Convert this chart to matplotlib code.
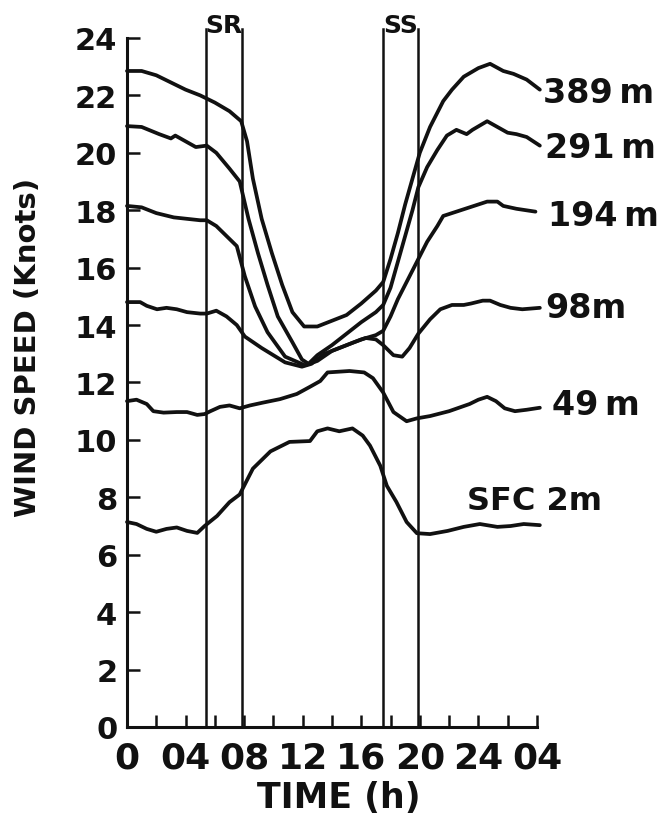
import numpy as np
import matplotlib.pyplot as plt
from matplotlib.ticker import MultipleLocator

# wind speed (knots) vs time (h), one list per height
h389 = [0, 1, 2, 3, 4, 5, 6, 7, 7.8, 8.2, 8.6, 9.2, 9.9, 10.6, 11.3, 12.1, 13.0, 14.0, 15.0,
        16.0, 17.0, 17.5, 18.0, 18.5, 19.0, 19.5, 20.0, 20.7, 21.6, 22.2, 23.0, 24.0, 24.8,
        25.7, 26.4, 27.3, 28.2]
v389 = [22.85, 22.85, 22.7, 22.45, 22.2, 22.0, 21.75, 21.45, 21.1, 20.4, 19.1, 17.7, 16.5,
        15.4, 14.45, 13.95, 13.95, 14.15, 14.35, 14.75, 15.2, 15.5, 16.3, 17.2, 18.2, 19.1,
        20.0, 20.9, 21.8, 22.2, 22.65, 22.95, 23.1, 22.85, 22.75, 22.55, 22.2]

h291 = [0, 1, 2.2, 3.0, 3.3, 4.0, 4.7, 5.45, 6.1, 7.0, 7.7, 8.3, 8.95, 9.6, 10.3, 11.3, 11.95,
        12.4, 13.0, 14.0, 15.0, 16.0, 17.0, 17.5, 18.0, 18.5, 19.0, 19.5, 19.9, 20.5, 21.2,
        21.85, 22.5, 23.2, 23.6, 24.6, 25.3, 26.0, 26.6, 27.3, 28.2]
v291 = [20.93, 20.9, 20.65, 20.5, 20.6, 20.4, 20.2, 20.25, 20.0, 19.45, 19.0, 17.7, 16.5,
        15.4, 14.3, 13.4, 12.8, 12.65, 12.95, 13.3, 13.7, 14.1, 14.45, 14.7, 15.3, 16.2, 17.1,
        18.0, 18.8, 19.5, 20.1, 20.6, 20.8, 20.65, 20.8, 21.1, 20.9, 20.7, 20.65, 20.55, 20.25]

h194 = [0, 1, 2.0, 3.2, 4.1, 5.0, 5.45, 6.1, 6.8, 7.5, 8.05, 8.75, 9.6, 10.8, 11.7, 12.15,
        13.0, 14.0, 15.0, 16.0, 17.0, 17.5, 18.0, 18.5, 19.0, 19.5, 19.9, 20.5, 21.2, 21.6,
        22.5, 23.4, 24.6, 25.3, 25.7, 26.6, 27.9]
v194 = [18.15, 18.1, 17.9, 17.75, 17.7, 17.65, 17.65, 17.45, 17.1, 16.75, 15.7, 14.65, 13.75,
        12.9, 12.7, 12.6, 12.75, 13.1, 13.3, 13.5, 13.65, 13.8, 14.3, 14.9, 15.4, 15.9, 16.3,
        16.9, 17.45, 17.8, 17.95, 18.1, 18.3, 18.3, 18.15, 18.05, 17.95]

h98 = [0, 0.9, 1.35, 2.05, 2.7, 3.4, 4.1, 5.0, 5.45, 6.1, 6.8, 7.5, 8.05, 9.2, 10.8, 11.95,
       12.6, 13.5, 14.5, 15.5, 16.3, 17.0, 17.5, 18.2, 18.8, 19.3, 19.9, 20.7, 21.4, 22.2,
       23.0, 23.5, 24.3, 24.8, 25.5, 26.2, 27.0, 28.2]
v98 = [14.8, 14.8, 14.67, 14.55, 14.6, 14.55, 14.45, 14.4, 14.4, 14.5, 14.3, 14.0, 13.6, 13.2,
       12.7, 12.55, 12.65, 13.0, 13.2, 13.4, 13.55, 13.5, 13.3, 12.95, 12.9, 13.2, 13.7, 14.2,
       14.55, 14.7, 14.7, 14.75, 14.85, 14.85, 14.7, 14.6, 14.55, 14.6]

h49 = [0, 0.65, 1.35, 1.8, 2.5, 3.4, 4.1, 4.8, 5.3, 5.7, 6.35, 7.0, 7.7, 8.4, 9.3, 10.45,
       11.6, 12.5, 13.2, 13.7, 15.2, 16.2, 16.8, 17.5, 18.2, 19.1, 19.8, 20.7, 22.0, 23.4,
       24.0, 24.6, 25.2, 25.8, 26.5, 27.3, 28.2]
v49 = [11.35, 11.4, 11.25, 11.0, 10.95, 10.97, 10.97, 10.87, 10.9, 11.0, 11.15, 11.2, 11.1,
       11.2, 11.3, 11.42, 11.6, 11.85, 12.05, 12.35, 12.4, 12.35, 12.15, 11.65, 10.97, 10.65,
       10.75, 10.83, 11.0, 11.25, 11.4, 11.5, 11.35, 11.1, 11.0, 11.05, 11.12]

hsfc = [0, 0.65, 1.35, 2.0, 2.7, 3.4, 4.1, 4.8, 5.3, 6.15, 7.0, 7.7, 8.6, 9.8, 11.1, 12.5,
        13.0, 13.7, 14.5, 15.4, 16.1, 16.6, 17.3, 17.75, 18.4, 19.1, 19.8, 20.7, 21.9, 23.0,
        24.1, 25.3, 26.2, 27.1, 28.2]
vsfc = [7.14, 7.07, 6.9, 6.8, 6.9, 6.95, 6.83, 6.76, 7.0, 7.35, 7.83, 8.1, 9.0, 9.6, 9.93,
        9.96, 10.3, 10.4, 10.3, 10.4, 10.15, 9.8, 9.1, 8.4, 7.84, 7.14, 6.75, 6.72, 6.83, 6.97,
        7.07, 6.97, 7.0, 7.07, 7.03]

curve_names = ['389\u2009m', '291\u2009m', '194\u2009m', '98m', '49\u2009m', 'SFC 2m']

# sunrise / sunset bracket lines (h)
sunrise = [5.4, 7.85]
sunset = [17.5, 19.9]

xtick_labels = ['0', '04', '08', '12', '16', '20', '24', '04']

ink = '#111111'

fig = plt.figure(figsize=(6.6, 8.2), dpi=100)
ax = fig.add_axes([0.1924, 0.1122, 0.6433, 0.8753])
ax.set_xlim(0, 29)
ax.set_ylim(0, 25)

curves = [(h389, v389), (h291, v291), (h194, v194), (h98, v98), (h49, v49), (hsfc, vsfc)]
for hh, vv in curves:
    ax.plot(hh, vv, color=ink, lw=2.7, solid_joinstyle='round', solid_capstyle='round',
            clip_on=False)

for xv in sunrise + sunset:
    ax.plot([xv, xv], [0, 24.3], color=ink, lw=1.8, clip_on=False)

bold = dict(fontweight='bold', color=ink, family='DejaVu Sans')
ax.text(np.mean(sunrise), 24.05, 'SR', ha='center', va='bottom', fontsize=18, **bold)
ax.text(np.mean(sunset), 24.05, 'SS', ha='center', va='bottom', fontsize=18, **bold)

# curve labels at the right end
label_pos = [(28.4, 22.1), (28.55, 20.2), (28.75, 17.8), (28.55, 14.6), (29.0, 11.25),
             (23.2, 7.9)]
for name, (lx, ly) in zip(curve_names, label_pos):
    fs = 23 if name.startswith('SFC') else 24
    ax.text(lx, ly, name, ha='left', va='center', fontsize=fs, clip_on=False, **bold)

for s in ['top', 'right']:
    ax.spines[s].set_visible(False)
ax.spines['left'].set_bounds(0, 24)
ax.spines['bottom'].set_bounds(0, 28)
for s in ['left', 'bottom']:
    ax.spines[s].set_linewidth(2.2)
    ax.spines[s].set_color(ink)

ax.set_yticks(np.arange(0, 25, 2))
ax.set_xticks(np.arange(0, 29, 4))
ax.set_xticklabels(xtick_labels)
ax.xaxis.set_minor_locator(MultipleLocator(2))
ax.tick_params(which='both', direction='in', length=9, width=1.8, color=ink)
ax.tick_params(axis='y', labelsize=22, pad=7)
ax.tick_params(axis='x', labelsize=26, pad=10)
for lab in ax.get_xticklabels() + ax.get_yticklabels():
    lab.set_fontweight('bold')
    lab.set_color(ink)

ax.set_xlabel('TIME (h)', fontsize=25, labelpad=4, **bold)
ax.set_ylabel('WIND SPEED (Knots)', fontsize=21, **bold)
ax.yaxis.set_label_coords(-0.2, 0.53)

fig.savefig('out.png', dpi=100, facecolor='white')
